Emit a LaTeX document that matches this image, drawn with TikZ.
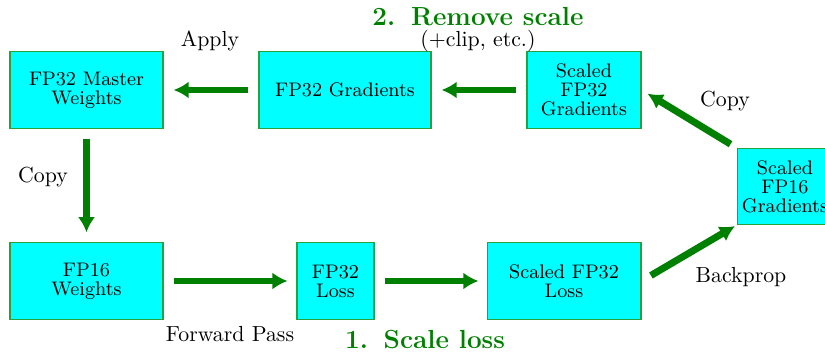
\documentclass[tikz,border=0pt]{standalone}
\usetikzlibrary{arrows.meta}
\definecolor{darkgr}{RGB}{0,128,0}
\definecolor{boxborder}{RGB}{40,160,60}
\definecolor{boxfill}{RGB}{0,255,255}
\begin{document}
\begin{tikzpicture}[x=0.4587pt,y=-0.4587pt,
  blk/.style={draw=boxborder,line width=0.5pt,fill=boxfill,align=center,inner sep=1pt,
    font=\fontsize{9}{8.7}\selectfont,minimum height=35pt},
  flow/.style={draw=darkgr,line width=3.2pt,-{Latex[length=6.9pt,width=7.8pt]}},
  lbl/.style={font=\normalsize,inner sep=0pt},
  hl/.style={font=\large\bfseries,text=darkgr,inner sep=0pt}]
\useasboundingbox (0,0) rectangle (825,354);
\node[blk,minimum width=70.2pt] (MW) at (86.5,90) {FP32 Master\\Weights};
\node[blk,minimum width=78.9pt] (G32) at (345,90) {FP32 Gradients};
\node[blk,minimum width=52.3pt] (SG32) at (584,90) {Scaled\\FP32\\Gradients};
\node[blk,minimum width=44pt] (SG16) at (785,186.5) {Scaled\\FP16\\Gradients};
\node[blk,minimum width=70.2pt] (W16) at (86.5,281) {FP16\\Weights};
\node[blk,minimum width=35.3pt] (L32) at (335.5,281) {FP32\\Loss};
\node[blk,minimum width=70.6pt] (SL32) at (564,281) {Scaled FP32\\Loss};

\draw[flow,shorten <=4.6pt,shorten >=4.6pt] (G32.west) -- (MW.east);
\draw[flow,shorten <=4.6pt,shorten >=4.6pt] (SG32.west) -- (G32.east);
\draw[flow,shorten <=3.2pt,shorten >=3.2pt] (SG16.north west) -- (SG32.east);
\draw[flow,shorten <=4.6pt,shorten >=4.6pt] (MW.south) -- (W16.north);
\draw[flow,shorten <=4.6pt,shorten >=4.1pt] (W16.east) -- (L32.west);
\draw[flow,shorten <=4.6pt,shorten >=3.7pt] (L32.east) -- (SL32.west);
\draw[flow,shorten <=5pt,shorten >=0.8pt] (SL32.east) -- (SG16.south west);

\node[lbl] (apply) at (210,41) {Apply};
\node[hl] (rm) at (478,17) {2.\hspace{0.6em}Remove scale};
\node[lbl] (clip) at (478,41) {(+clip, etc.)};
\node[lbl] (copyr) at (725,101) {Copy};
\node[lbl] (copyl) at (43,177) {Copy};
\node[lbl] (fwd) at (230,334) {Forward Pass};
\node[hl] (sl) at (425,340) {1.\hspace{0.6em}Scale loss};
\node[lbl] (bp) at (741,277) {Backprop};
\end{tikzpicture}
\end{document}
